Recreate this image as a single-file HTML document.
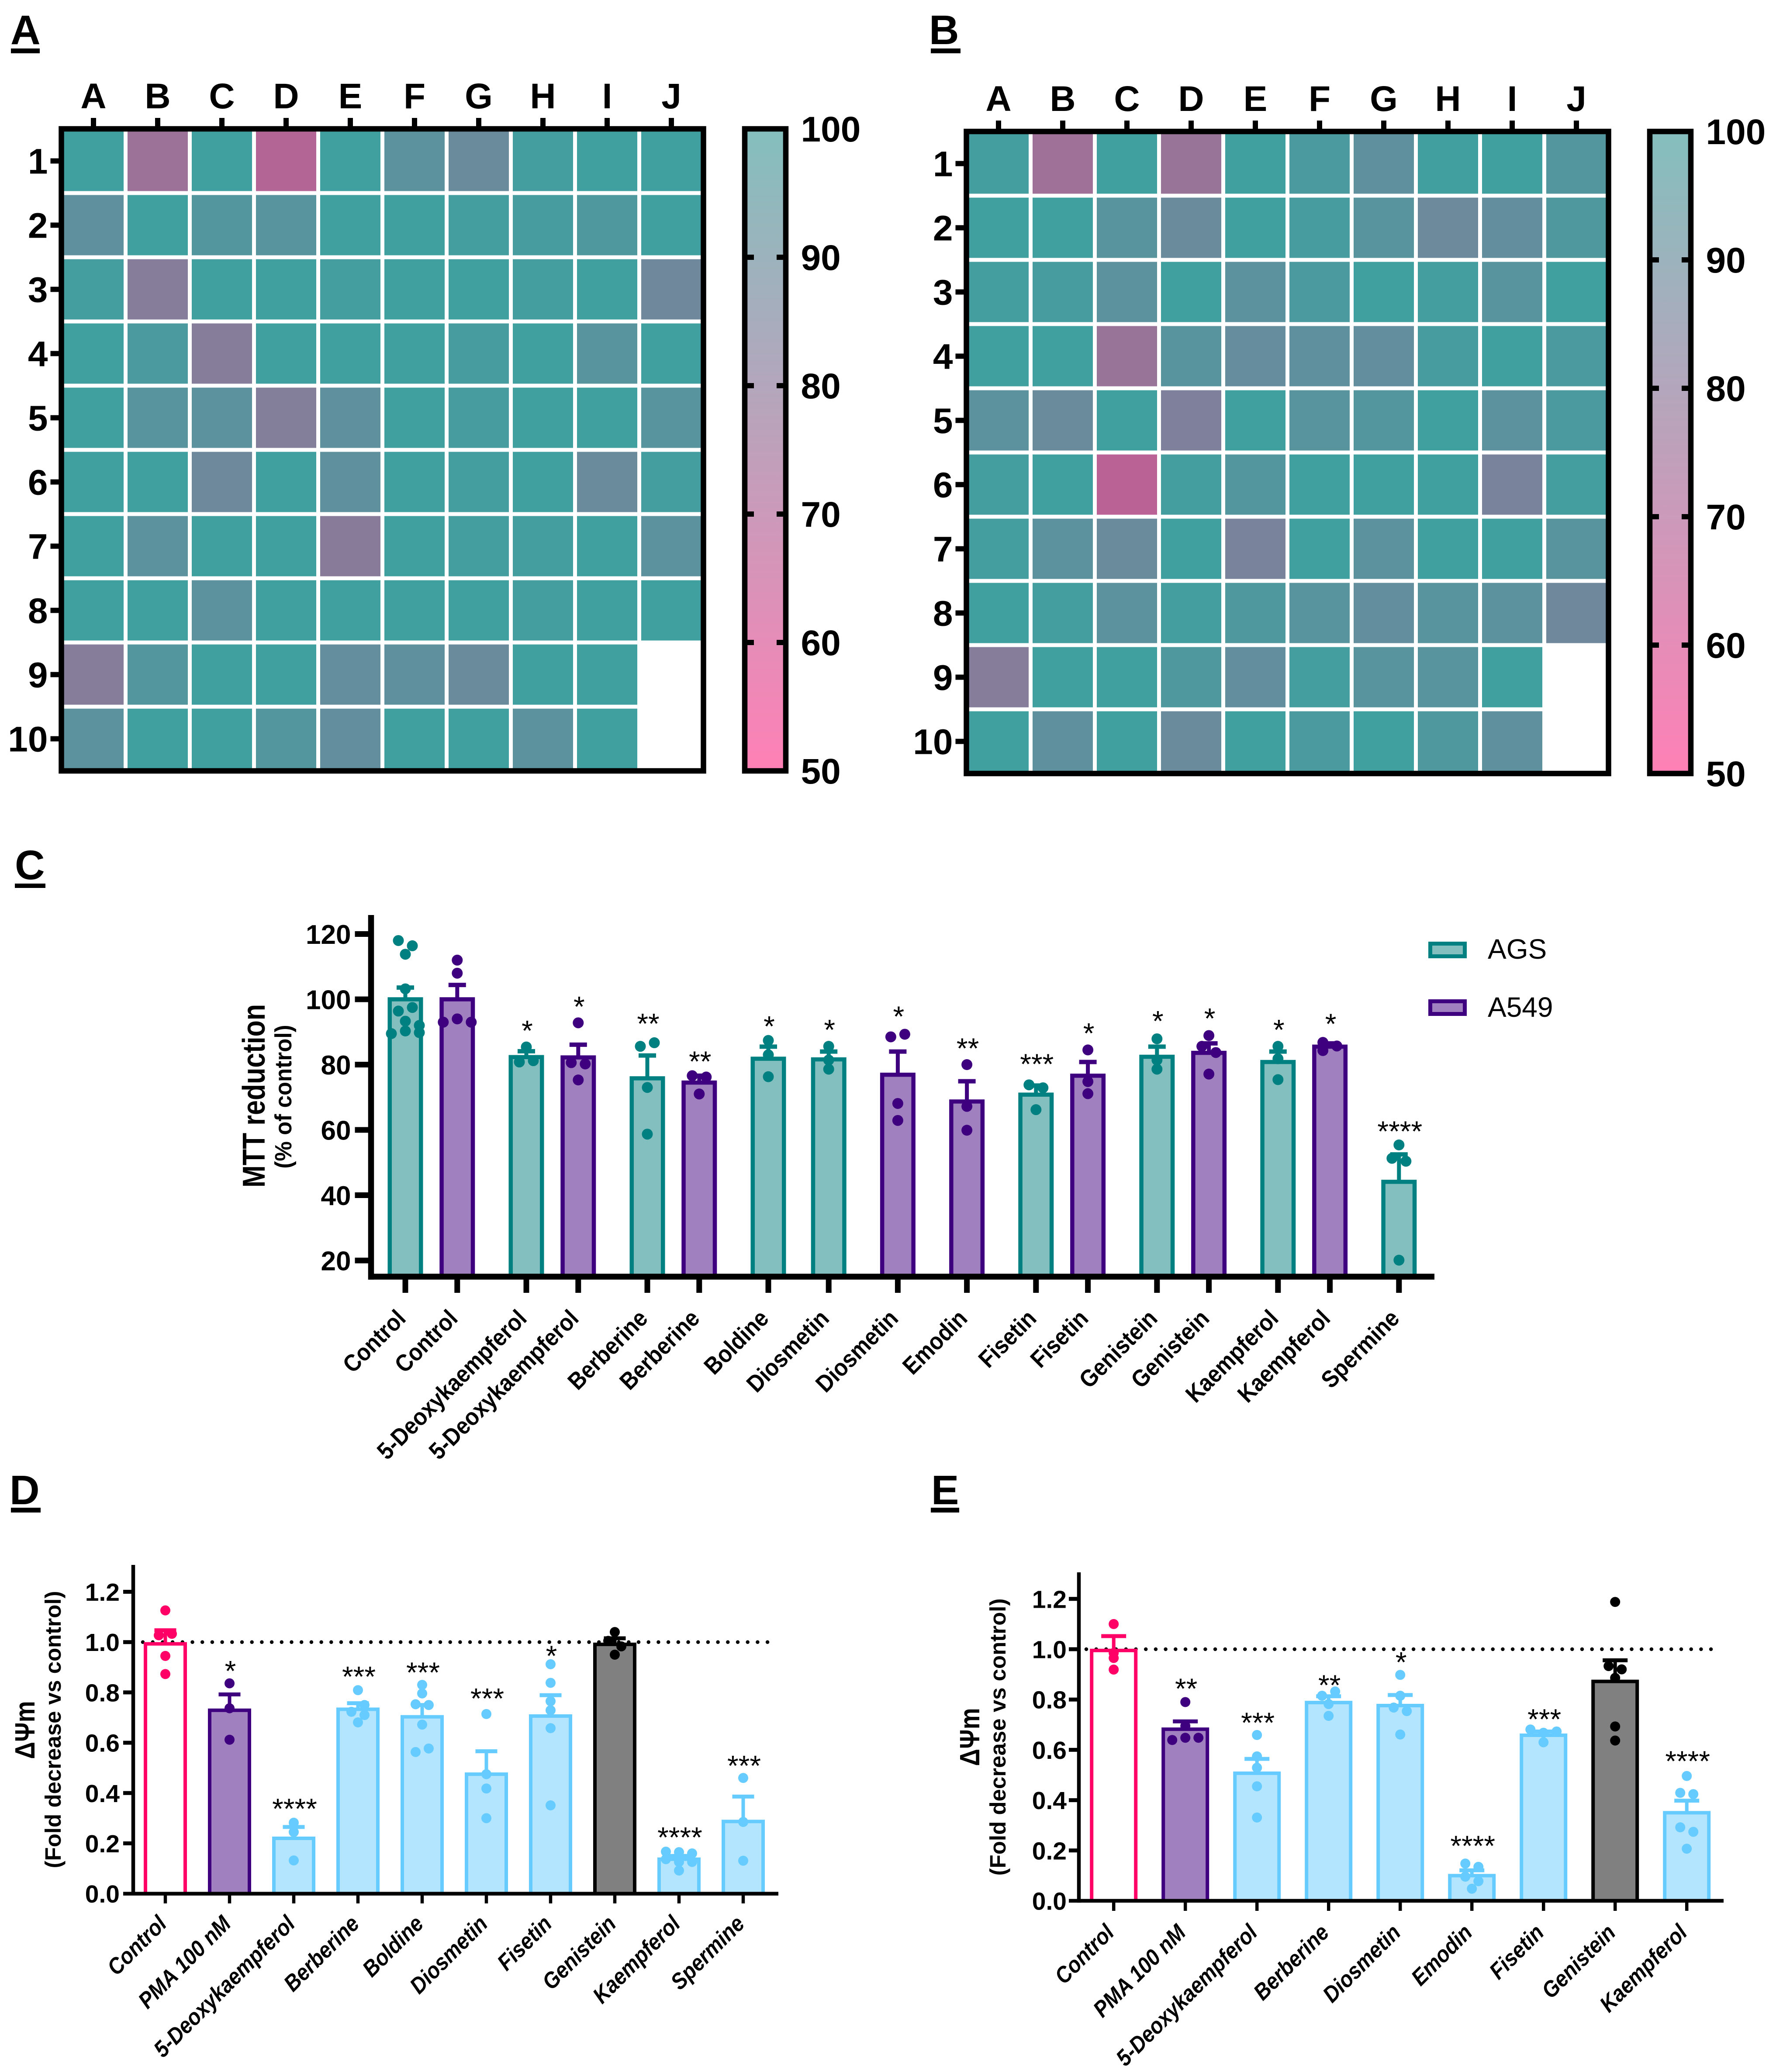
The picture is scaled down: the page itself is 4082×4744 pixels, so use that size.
<!DOCTYPE html>
<html lang="en">
<head>
<meta charset="utf-8">
<title>Heatmaps and bar charts of compound screening</title>
<style>
html,body{margin:0;padding:0;background:#fff;}
svg{display:block;font-family:"Liberation Sans",Arial,sans-serif;}
.panel{font-size:95px;font-weight:700;}
</style>
</head>
<body>
<svg id="fig" xmlns="http://www.w3.org/2000/svg" width="4082" height="4744" viewBox="0 0 4082 4744">
<rect x="0" y="0" width="4082" height="4744" fill="#fff"/>
<defs>
<linearGradient id="cbgrad" x1="0" y1="0" x2="0" y2="1">
<stop offset="0" stop-color="#84bfbd"/><stop offset="0.5" stop-color="#bfa0bb"/><stop offset="1" stop-color="#ff80b5"/>
</linearGradient>
</defs>
<text class="panel" x="24" y="101">A</text>
<rect x="25" y="111" width="66" height="11"/>
<text class="panel" x="2127" y="101">B</text>
<rect x="2131" y="111" width="68" height="11"/>
<text class="panel" x="34" y="2013">C</text>
<rect x="34" y="2023" width="70" height="10"/>
<text class="panel" x="22" y="3444">D</text>
<rect x="25" y="3452" width="68" height="11"/>
<text class="panel" x="2132" y="3444">E</text>
<rect x="2131" y="3452" width="65" height="11"/>

<text x="606" y="2509" font-size="72" font-weight="700" text-anchor="middle" textLength="420" lengthAdjust="spacingAndGlyphs" transform="rotate(-90 606 2509)">MTT reduction</text>
<text x="667" y="2511" font-size="54" font-weight="700" text-anchor="middle" textLength="329" lengthAdjust="spacingAndGlyphs" transform="rotate(-90 667 2511)">(% of control)</text>
<rect x="3274.5" y="2160.5" width="79" height="29" fill="#84bfbf" stroke="#008080" stroke-width="9"/>
<text x="3406" y="2195" font-size="64">AGS</text>
<rect x="3274.5" y="2292.5" width="79" height="29" fill="#a080bf" stroke="#3f0080" stroke-width="9"/>
<text x="3406" y="2328" font-size="64">A549</text>

<text x="79" y="3961" font-size="64" font-weight="700" text-anchor="middle" textLength="133" lengthAdjust="spacingAndGlyphs" transform="rotate(-90 79 3961)">ΔΨm</text>
<text x="139" y="3960" font-size="51" font-weight="700" text-anchor="middle" transform="rotate(-90 139 3960)">(Fold decrease vs control)</text>
<text x="2242" y="3977" font-size="64" font-weight="700" text-anchor="middle" textLength="133" lengthAdjust="spacingAndGlyphs" transform="rotate(-90 2242 3977)">ΔΨm</text>
<text x="2302" y="3977" font-size="51" font-weight="700" text-anchor="middle" transform="rotate(-90 2302 3977)">(Fold decrease vs control)</text>
</svg>
<script>
/* ---------- heatmap data ---------- */
const heatCols = ['A','B','C','D','E','F','G','H','I','J'];
const heatRows = ['1','2','3','4','5','6','7','8','9','10'];
const colorbarTicks = [100,90,80,70,60,50];
const heatA = [
[100,76,100,70,100,93,89,99,100,100],
[92,100,95,94,100,100,99,98,96,100],
[99,82,100,100,99,100,100,99,100,87.5],
[100,97,82,100,100,100,98,100,94,100],
[100,94,93,82.5,92,100,98,100,100,94],
[100,100,88,100,92,100,99,100,89,99],
[100,93,100,100,81,100,99,99,100,93],
[100,100,93,100,100,100,100,99,100,100],
[82,95,100,100,90.5,92,89,100,100,null],
[93,100,100,95,91,100,100,93,100,null]];
const heatB = [
[99,75,100,77,100,97,92,99.5,100,95],
[100,100,94,89,100,98,94,88.5,91,96],
[99,98,93,100,93,97,100,99,94,100],
[100,100,77,94,90,92,91,98,100,97],
[93,89,100,83.5,100,94,95,100,93,97],
[99,100,68,99,95,100,100,100,85,99],
[99,93,89,100,85,100,93,100,100,94],
[100,99,93,99,96,94,91,94,93,87.5],
[82,100,100,96,91,99,94,94,100,null],
[100,92,100,89,100,97,100,96,92,null]];

/* ---------- panel C data ---------- */
const namesC = ['Control','Control','5-Deoxykaempferol','5-Deoxykaempferol','Berberine','Berberine','Boldine','Diosmetin','Diosmetin','Emodin','Fisetin','Fisetin','Genistein','Genistein','Kaempferol','Kaempferol','Spermine'];
const seriesC = ['AGS','A549','AGS','A549','AGS','A549','AGS','AGS','A549','A549','AGS','A549','AGS','A549','AGS','A549','AGS'];
const groupsC = [0,0,1,1,2,2,3,3,4,5,6,6,7,7,8,8,9];
const meansC = [100,100,82.3,82.2,75.8,74.5,81.8,81.6,76.9,68.7,70.8,76.6,82.4,83.6,80.8,85.5,44.1];
const errorsC = [103.6,104.4,84.1,86.1,82.8,76.6,85.5,84,84,74.9,73.6,80.8,85.5,86.5,84,86.5,52.5];
const pointsC = [
[118,116.4,113.8,103.2,97.5,96.4,93.3,92,90.3,89.8,89.5],
[112,108,93,94,93],
[85.4,80.8,81.2],
[92.8,80.6,80.2,75.3],
[85.6,86.7,73,58.7],
[76.6,76.2,71],
[87.4,83,76.3],
[85.6,81.4,78.6],
[88.5,89.3,68.1,62.9],
[80,67.2,59.9],
[73.8,72.9,66.2],
[84.5,74.8,71.1],
[87.9,81.4,78.6],
[88.9,85.6,83.7,77.1],
[85.6,81.8,75.4],
[86.8,84.3,85.7],
[55.4,51.3,50.4,20.1]];
const jitterC = [
[-1,1,0,0,1,-1,0,2,0,2,-2],
[0,0,-2,0,2],
[0,-1,1],
[0,-1,1,0],
[-1,1,0,0],
[-1,1,0],
[0,0,0],
[0,0,0],
[-1,1,0,0],
[0,0,0],
[-1,1,0],
[0,0,0],
[0,0,0],
[0,-1,1,0],
[0,0,0],
[-1,-1,1],
[0,-1,1,0]];
const starsC = ['','','*','*','**','**','*','*','*','**','***','*','*','*','*','*','****'];
const starLevelsC = [null,null,91.6,99,93.8,82.2,93,91.9,96,86.2,81.4,90.8,94.6,95.4,91.9,93.7,60.8];
const tickLabelsC = ['20','40','60','80','100','120'];

/* ---------- panel D data ---------- */
const namesD = ['Control','PMA 100 nM','5-Deoxykaempferol','Berberine','Boldine','Diosmetin','Fisetin','Genistein','Kaempferol','Spermine'];
const kindsD = ['control','pma','compound','compound','compound','compound','compound','genistein','compound','compound'];
const meansD = [0.993,0.729,0.22,0.733,0.703,0.475,0.706,0.991,0.137,0.287];
const errorsD = [1.047,0.792,0.265,0.757,0.75,0.566,0.789,1.015,0.15,0.386];
const pointsD = [
[1.126,1.027,1.033,0.945,0.873],
[0.836,0.737,0.612],
[0.282,0.245,0.132],
[0.809,0.723,0.75,0.71,0.681],
[0.83,0.796,0.753,0.75,0.672,0.563,0.577],
[0.714,0.475,0.418,0.3],
[0.912,0.838,0.765,0.729,0.658,0.351],
[1.04,1.005,0.983,0.95],
[0.167,0.165,0.16,0.137,0.126,0.126,0.092],
[0.46,0.285,0.131]];
const jitterD = [
[0,-1,1,0,0],
[0,0,0],
[0,0,0],
[0,-1,1,1,0],
[0,0,-1,1,0,-1,1],
[0,0,0,0],
[0,0,0,0,0,0],
[0,-1,1,0],
[-2,0,2,-2,2,0,0],
[0,0,0]];
const starsD = ['','*','****','***','***','***','*','','****','***'];
const starLevelsD = [null,0.905,0.357,0.882,0.899,0.795,0.965,null,0.243,0.528];
const tickLabelsD = ['0.0','0.2','0.4','0.6','0.8','1.0','1.2'];

/* ---------- panel E data ---------- */
const namesE = ['Control','PMA 100 nM','5-Deoxykaempferol','Berberine','Diosmetin','Emodin','Fisetin','Genistein','Kaempferol'];
const kindsE = ['control','pma','compound','compound','compound','compound','compound','genistein','compound'];
const meansE = [0.995,0.682,0.507,0.788,0.776,0.1,0.658,0.872,0.35];
const errorsE = [1.052,0.713,0.564,0.813,0.818,0.121,0.673,0.956,0.398];
const pointsE = [
[1.1,0.985,0.965,0.919],
[0.79,0.695,0.639,0.648,0.648],
[0.659,0.574,0.529,0.455,0.331],
[0.815,0.832,0.782,0.735],
[0.898,0.815,0.768,0.754,0.661],
[0.148,0.135,0.096,0.078,0.048],
[0.681,0.673,0.668,0.63],
[1.188,0.933,0.92,0.886,0.693,0.637],
[0.496,0.429,0.424,0.292,0.274,0.207]];
const jitterE = [
[0,0,0,0],
[0,0,-2,0,2],
[0,0,0,0,0],
[-1,1,0,0],
[0,0,-1,1,0],
[-1,1,-1,1,0],
[-2,2,0,0],
[0,-1,1,0,0,0],
[0,-1,1,-1,1,0]];
const starsE = ['','**','***','**','*','****','***','','****'];
const starLevelsE = [null,0.863,0.727,0.877,0.968,0.238,0.741,null,0.575];
const tickLabelsE = ['0.0','0.2','0.4','0.6','0.8','1.0','1.2'];

/* ---------- helpers ---------- */
const NS = 'http://www.w3.org/2000/svg';
const fig = document.getElementById('fig');
function mk(parent, tag, attrs, text) {
  const node = document.createElementNS(NS, tag);
  for (const k in attrs) node.setAttribute(k, attrs[k]);
  if (text !== undefined) node.textContent = text;
  parent.appendChild(node);
  return node;
}
function heatColor(v) {
  const t = (100 - Math.max(50, Math.min(100, v))) / 50;
  const comp = c => Math.round(c * 0.75 + 255 * 0.25);
  return 'rgb(' + comp(255 * t) + ',' + comp(128 * (1 - t)) + ',' + comp(128 - 21 * t) + ')';
}

/* ---------- heatmap drawing ---------- */
function drawHeatmap(id, values, ox, oy) {
  const pitch = 147, gap = 9;
  const xH = c => ox + pitch * c;
  const yH = r => oy + pitch * r;
  const g = mk(fig, 'g', {});
  
  
  values.forEach((row, r) => row.forEach((v, c) => {
    if (v === null) return;
    const cell = mk(g, 'rect', {x: xH(c) + gap / 2, y: yH(r) + gap / 2, width: pitch - gap, height: pitch - gap, fill: heatColor(v)});
    
    
  }));
  const frame = mk(g, 'rect', {x: ox, y: oy, width: pitch * 10, height: pitch * 10, fill: 'none', stroke: '#000', 'stroke-width': 12.5});
  
  
  heatCols.forEach((name, c) => {
    const cx = xH(c) + pitch / 2;
    const tick = mk(g, 'rect', {x: cx - 6, y: oy - 25, width: 12, height: 20});
    
    
    const label = mk(g, 'text', {x: cx, y: oy - 47, 'font-size': 82, 'font-weight': 700, 'text-anchor': 'middle'}, name);
    
    
  });
  heatRows.forEach((name, r) => {
    const cy = yH(r) + pitch / 2;
    const tick = mk(g, 'rect', {x: ox - 25, y: cy - 6, width: 20, height: 12});
    
    
    const label = mk(g, 'text', {x: ox - 31, y: cy + 29, 'font-size': 82, 'font-weight': 700, 'text-anchor': 'end'}, name);
    
    
  });
  const bx = ox + 1564.5, bw = 94;
  const yBar = v => oy + (100 - v) / 50 * pitch * 10;
  const bar = mk(g, 'rect', {x: bx, y: oy, width: bw, height: pitch * 10, fill: 'url(#cbgrad)', stroke: '#000', 'stroke-width': 12.5});
  
  
  colorbarTicks.forEach(v => {
    const y = yBar(v);
    if (v !== 100 && v !== 50) {
      const t1 = mk(g, 'rect', {x: bx + 6, y: y - 6, width: 15, height: 12});
      
      
      const t2 = mk(g, 'rect', {x: bx + bw - 21, y: y - 6, width: 15, height: 12});
      
      
    }
    const lab = mk(g, 'text', {x: ox + 1693, y: y + 29, 'font-size': 82, 'font-weight': 700}, String(v));
    
    
  });
}
drawHeatmap('a', heatA, 140.5, 295);
drawHeatmap('b', heatB, 2212.5, 301);

/* ---------- bar chart drawing ---------- */
const stylesC = {AGS: {fill: '#84bfbf', stroke: '#008080'}, A549: {fill: '#a080bf', stroke: '#3f0080'}};
const stylesDE = {
  control: {fill: '#ffffff', stroke: '#ff0066'},
  pma: {fill: '#a080bf', stroke: '#3f0080'},
  compound: {fill: '#b3e5ff', stroke: '#66ccff'},
  genistein: {fill: '#808080', stroke: '#000000'}
};
function drawBars(cfg) {
  const g = mk(fig, 'g', {});
  
  
  const {x, y} = cfg;
  if (cfg.refY !== undefined) {
    const ref = mk(g, 'line', {x1: cfg.refX1, x2: cfg.refX2, y1: y(cfg.refY), y2: y(cfg.refY), stroke: '#000', 'stroke-width': 8.5, 'stroke-linecap': 'round', 'stroke-dasharray': '0 22.7'});
    
    
  }
  cfg.means.forEach((m, i) => {
    const st = cfg.styles[cfg.kinds[i]];
    const top = y(m), cx = x(i);
    const bar = mk(g, 'rect', {x: cx - cfg.half + cfg.sw / 2, y: top, width: 2 * cfg.half - cfg.sw, height: cfg.base - top, fill: st.fill, stroke: st.stroke, 'stroke-width': cfg.sw});
    
    
    const et = y(cfg.errors[i]);
    const stem = mk(g, 'line', {x1: cx, x2: cx, y1: top, y2: et, stroke: st.stroke, 'stroke-width': cfg.stem});
    
    
    const cap = mk(g, 'line', {x1: cx - cfg.cap / 2, x2: cx + cfg.cap / 2, y1: et, y2: et, stroke: st.stroke, 'stroke-width': cfg.capT});
    
    
    cfg.points[i].forEach((p, j) => {
      const dot = mk(g, 'circle', {cx: cx + cfg.jitter[i][j] * cfg.step, cy: y(p), r: cfg.r, fill: st.stroke});
      
      
    });
    if (cfg.stars[i]) {
      const size = 66;
      const star = mk(g, 'text', {x: cx + 2, y: y(cfg.starLevels[i]) + size * 0.575 - cfg.starShift, 'font-size': size, 'text-anchor': 'middle'}, cfg.stars[i]);
      
      
    }
    const tick = mk(g, 'line', {x1: cx, x2: cx, y1: cfg.base, y2: cfg.tickEnd, stroke: '#000', 'stroke-width': cfg.xTickW});
    
    
    const lx = cx + cfg.labelDx, ly = cfg.labelY;
    const attrs = {x: 0, y: 0, 'font-size': cfg.labelSize, 'font-weight': 700, 'text-anchor': 'end', transform: 'translate(' + lx + ' ' + ly + ') rotate(-45) scale(0.9 1)'};
    if (cfg.italic) attrs['font-style'] = 'italic';
    const lab = mk(g, 'text', attrs, cfg.names[i]);
    
    
  });
  cfg.tickLabels.forEach(t => {
    const ty = y(parseFloat(t));
    if (ty < cfg.base - 1) {
      const tick = mk(g, 'line', {x1: cfg.axisX - cfg.yTickLen, x2: cfg.axisX, y1: ty, y2: ty, stroke: '#000', 'stroke-width': cfg.yTickW});
      
      
    }
    const lab = mk(g, 'text', {x: cfg.axisX - cfg.labelGap, y: ty + cfg.tickSize * 0.36, 'font-size': cfg.tickSize, 'font-weight': 700, 'text-anchor': 'end'}, t);
    
    
  });
  const yAxis = mk(g, 'line', {x1: cfg.axisX, x2: cfg.axisX, y1: cfg.axisTop, y2: cfg.base + cfg.axisW / 2, stroke: '#000', 'stroke-width': cfg.axisW});
  
  
  const xAxis = mk(g, 'line', {x1: cfg.xAxisStart, x2: cfg.xAxisEnd, y1: cfg.base, y2: cfg.base, stroke: '#000', 'stroke-width': cfg.axisW});
  
  
}
function xC(i) {
  let pos = 928;
  for (let k = 1; k <= i; k++) {
    if (k === 7) pos += 138.2;
    else pos += groupsC[k] === groupsC[k - 1] ? 118.8 : 158.2;
  }
  return pos;
}
const yC = v => 2886 - (v - 20) * 7.475;
drawBars({
  id: 'c', names: namesC, kinds: seriesC, means: meansC, errors: errorsC, points: pointsC, jitter: jitterC,
  stars: starsC, starLevels: starLevelsC, starShift: 6, tickLabels: tickLabelsC, styles: stylesC, x: xC, y: yC,
  base: 2923, tickEnd: 2960, half: 40.5, sw: 9.5, stem: 9, cap: 40, capT: 10, r: 12.5, step: 16,
  xTickW: 13, labelDx: 4, labelY: 3022, labelSize: 55, italic: false,
  axisX: 849.5, axisTop: 2095, axisW: 13.5, yTickLen: 37, yTickW: 13, labelGap: 46, tickSize: 62,
  xAxisStart: 843, xAxisEnd: 3284
});
const xD = i => 378.5 + 147 * i;
const yD = v => 4335.7 - v * 576;
drawBars({
  id: 'd', names: namesD, kinds: kindsD, means: meansD, errors: errorsD, points: pointsD, jitter: jitterD,
  stars: starsD, starLevels: starLevelsD, starShift: 4, tickLabels: tickLabelsD, styles: stylesDE, x: xD, y: yD,
  base: 4335.7, tickEnd: 4358, half: 49.5, sw: 8, stem: 8, cap: 50, capT: 9, r: 11.5, step: 15,
  xTickW: 7.5, labelDx: 6, labelY: 4408, labelSize: 52, italic: true,
  axisX: 305, axisTop: 3583, axisW: 8.5, yTickLen: 23, yTickW: 9, labelGap: 31, tickSize: 57,
  xAxisStart: 282, xAxisEnd: 1782, refY: 1, refX1: 327, refX2: 1769
});
const xE = i => 2549.7 + 164 * i;
const yE = v => 4352 - v * 576;
drawBars({
  id: 'e', names: namesE, kinds: kindsE, means: meansE, errors: errorsE, points: pointsE, jitter: jitterE,
  stars: starsE, starLevels: starLevelsE, starShift: 4, tickLabels: tickLabelsE, styles: stylesDE, x: xE, y: yE,
  base: 4352, tickEnd: 4375, half: 54.5, sw: 8, stem: 8, cap: 57, capT: 9, r: 11.5, step: 15,
  xTickW: 7.5, labelDx: 4, labelY: 4428, labelSize: 52, italic: true,
  axisX: 2470, axisTop: 3600, axisW: 8.5, yTickLen: 23, yTickW: 9, labelGap: 28, tickSize: 57,
  xAxisStart: 2447, xAxisEnd: 3946, refY: 1, refX1: 2487, refX2: 3933
});
</script>
</body>
</html>
